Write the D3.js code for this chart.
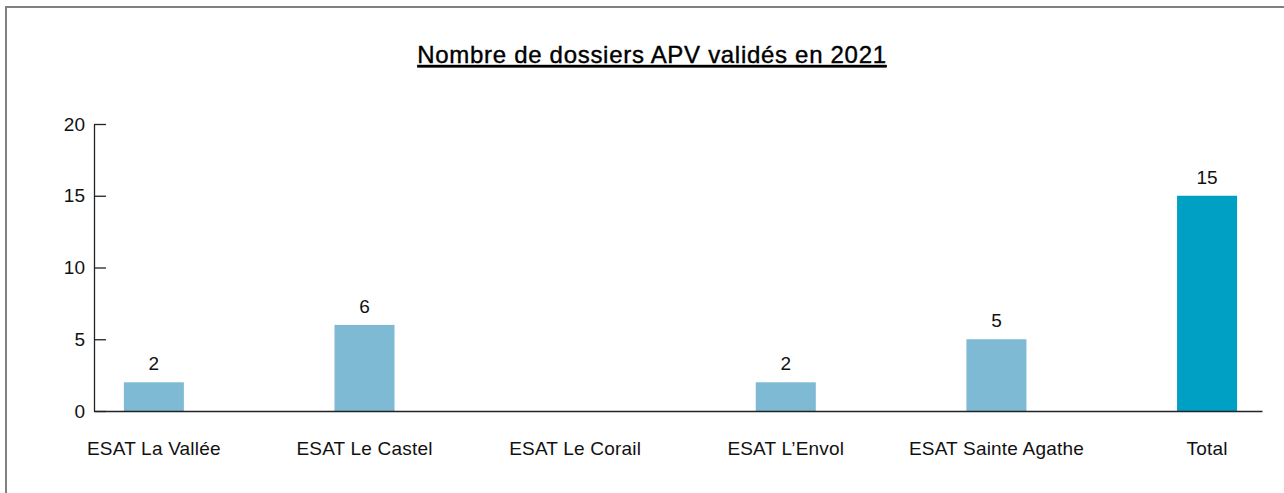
<!DOCTYPE html>
<html>
<head>
<meta charset="utf-8">
<script src="https://cdn.jsdelivr.net/npm/d3@7"></script>
<style>
  html, body { margin: 0; padding: 0; background: #fff; }
  svg { display: block; font-family: "Liberation Sans", Arial, sans-serif; }
</style>
</head>
<body>
<div id="chart"></div>
<script>
// données
const categories = ["ESAT La Vallée", "ESAT Le Castel", "ESAT Le Corail", "ESAT L\u2019Envol", "ESAT Sainte Agathe", "Total"];
const values = [2, 6, null, 2, 5, 15];
const yTicks = [0, 5, 10, 15, 20];
const title = "Nombre de dossiers APV validés en 2021";

const width = 1284, height = 493;
const margin = { left: 94, right: 1262, top: 124, bottom: 411 };

const svg = d3.select("#chart").append("svg")
    .attr("width", width)
    .attr("height", height);

// cadre (gauche + haut)
svg.append("path")
    .attr("d", `M6,${height} L6,7 L${width},7`)
    .attr("fill", "none")
    .attr("stroke", "#808080")
    .attr("stroke-width", 2);

// titre souligné
svg.append("text")
    .attr("x", 652)
    .attr("y", 63)
    .attr("text-anchor", "middle")
    .attr("font-size", 24)
    .attr("letter-spacing", 0.7)
    .attr("fill", "#000")
    .attr("stroke", "#000")
    .attr("stroke-width", 0.4)
    .attr("text-decoration", "underline")
    .text(title);

const x = d3.scaleBand()
    .domain(categories)
    .range([margin.left, margin.right])
    .paddingInner(0.715)
    .paddingOuter(0.13)
    .align(0.545);

const y = d3.scaleLinear()
    .domain([0, 20])
    .range([margin.bottom, margin.top]);

// axe Y
const yAxis = svg.append("g")
    .attr("transform", `translate(${margin.left},0)`)
    .call(d3.axisLeft(y).tickValues(yTicks).tickSize(-12).tickSizeOuter(0).tickPadding(9));
yAxis.selectAll("text").attr("font-size", 19).attr("fill", "#111").attr("font-family", "Liberation Sans, Arial, sans-serif");
yAxis.selectAll("line, path").attr("stroke", "#222").attr("stroke-width", 1.3);

const bars = categories.map((c, i) => ({ c, v: values[i] })).filter(d => d.v != null);

// barres
svg.append("g")
    .selectAll("rect")
    .data(bars)
    .enter()
    .append("rect")
    .attr("x", d => x(d.c))
    .attr("width", x.bandwidth())
    .attr("y", d => y(d.v))
    .attr("height", d => y(0) - y(d.v))
    .attr("fill", d => d.c === "Total" ? "#009fc4" : "#7fbad4");

// étiquettes de valeur
svg.append("g")
    .selectAll("text")
    .data(bars)
    .enter()
    .append("text")
    .attr("x", d => x(d.c) + x.bandwidth() / 2)
    .attr("y", d => y(d.v) - 12)
    .attr("text-anchor", "middle")
    .attr("font-size", 19)
    .attr("fill", "#111")
    .text(d => d.v);

// axe X
const xAxis = svg.append("g")
    .attr("transform", `translate(0,${margin.bottom})`)
    .call(d3.axisBottom(x).tickSize(0).tickPadding(31));
xAxis.selectAll("text").attr("font-size", 19).attr("letter-spacing", 0.2).attr("fill", "#111").attr("font-family", "Liberation Sans, Arial, sans-serif");
xAxis.select("path").attr("stroke", "#222").attr("stroke-width", 1.6);
</script>
</body>
</html>
